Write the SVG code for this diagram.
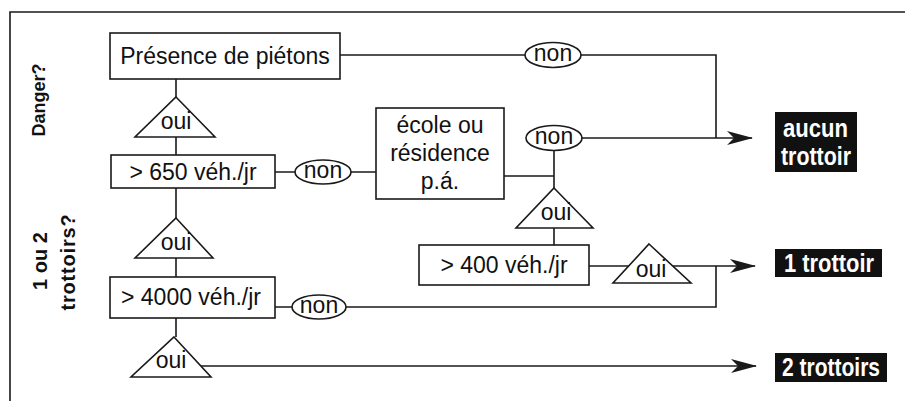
<svg xmlns="http://www.w3.org/2000/svg" width="905" height="401" viewBox="0 0 905 401">
<style>
.ln{fill:none;stroke:#1a1a1a;stroke-width:1.6}
.bx{fill:#fff;stroke:#1a1a1a;stroke-width:1.6}
.t{font-family:"Liberation Sans",Arial,sans-serif;font-size:23px;fill:#111;text-anchor:middle}
.w{font-family:"Liberation Sans",Arial,sans-serif;font-size:26px;font-weight:bold;fill:#fff;text-anchor:start}
.s{font-family:"Liberation Sans",Arial,sans-serif;font-size:19px;font-weight:bold;fill:#111;text-anchor:middle}
</style>
<defs>
<marker id="ah" markerUnits="userSpaceOnUse" viewBox="0 0 26 14" refX="25" refY="7" markerWidth="26" markerHeight="14" orient="auto">
<path d="M0,0 L26,7 L0,14 L7,7 Z" fill="#1a1a1a"/>
</marker>
</defs>
<rect width="905" height="401" fill="#fff"/>
<path class="ln" d="M10,401 V12 H905"/>
<g id="labels">
<text class="s" transform="translate(45,100) rotate(-90)" x="0" y="0" style="font-size:18px">Danger?</text>
<text class="s" transform="translate(47,261) rotate(-90)" x="0" y="0" style="font-size:20px">1 ou 2</text>
<text class="s" transform="translate(75,262) rotate(-90)" x="0" y="0" style="font-size:20px;letter-spacing:0.8px">trottoirs?</text>
</g>
<g id="connectors">
<path class="ln" d="M176,79 V97 M176,137 V155 M176,188 V218 M176,258 V277 M176,318 V337"/>
<path class="ln" d="M340,55 H526 M580,55 H716 V138"/>
<path class="ln" d="M275,172 H296 M350,172 H376"/>
<path class="ln" d="M504,176 H554 M554,149 V188 M554,228 V245"/>
<path class="ln" d="M581,138 H752" marker-end="url(#ah)"/>
<path class="ln" d="M589,266 H755" marker-end="url(#ah)"/>
<path class="ln" d="M716,266 V307 H346 M275,307 H293"/>
<path class="ln" d="M200,366 H756" marker-end="url(#ah)"/>
</g>
<g id="n_presence"><rect class="bx" x="110" y="33" width="230" height="46"/><text class="t" x="225" y="64">Présence de piétons</text></g>
<g id="tri_oui1"><polygon class="bx" points="176,97 215,137 135,137"/><text class="t" x="176" y="129">oui</text></g>
<g id="n_650"><rect class="bx" x="111" y="155" width="164" height="33"/><text class="t" x="193" y="180">&gt; 650 véh./jr</text></g>
<g id="non_650"><ellipse class="bx" cx="323" cy="172" rx="28" ry="12"/><text class="t" x="323" y="178">non</text></g>
<g id="n_ecole"><rect class="bx" x="376" y="108" width="128" height="91"/><text class="t" x="440" y="133">école ou</text><text class="t" x="440" y="161">résidence</text><text class="t" x="440" y="189">p.á.</text></g>
<g id="non_top"><ellipse class="bx" cx="553" cy="55" rx="28" ry="12.5"/><text class="t" x="553" y="61">non</text></g>
<g id="non_ecole"><ellipse class="bx" cx="554" cy="138" rx="28" ry="12.5"/><text class="t" x="554" y="144">non</text></g>
<g id="tri_oui3"><polygon class="bx" points="554,188 593,228 516,228"/><text class="t" x="556" y="220">oui</text></g>
<g id="n_400"><rect class="bx" x="419" y="245" width="170" height="40"/><text class="t" x="504" y="273">&gt; 400 véh./jr</text></g>
<g id="tri_oui4"><polygon class="bx" points="649,244 691,283 613,283"/><text class="t" x="651" y="277">oui</text></g>
<g id="tri_oui2"><polygon class="bx" points="176,218 213,258 135,258"/><text class="t" x="176" y="250">oui</text></g>
<g id="n_4000"><rect class="bx" x="110" y="277" width="165" height="41"/><text class="t" x="191" y="305">&gt; 4000 véh./jr</text></g>
<g id="non_4000"><ellipse class="bx" cx="319" cy="307" rx="27" ry="12"/><text class="t" x="319" y="313">non</text></g>
<g id="tri_oui5"><polygon class="bx" points="174,337 211,377 131,377"/><text class="t" x="171" y="368">oui</text></g>
<g id="r_aucun"><rect x="775" y="112" width="82" height="60" fill="#111"/><text class="w" x="783" y="137" textLength="65" lengthAdjust="spacingAndGlyphs">aucun</text><text class="w" x="781" y="165" textLength="70" lengthAdjust="spacingAndGlyphs">trottoir</text></g>
<g id="r_1"><rect x="775" y="249" width="107" height="28" fill="#111"/><text class="w" x="784" y="272" textLength="90" lengthAdjust="spacingAndGlyphs">1 trottoir</text></g>
<g id="r_2"><rect x="775" y="353" width="112" height="29" fill="#111"/><text class="w" x="782" y="376" textLength="98" lengthAdjust="spacingAndGlyphs">2 trottoirs</text></g>
</svg>
